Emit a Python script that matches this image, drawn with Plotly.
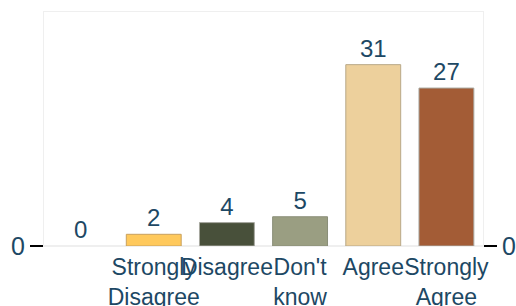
import plotly.graph_objects as go

categories = ["", "Strongly<br>Disagree", "Disagree", "Don't<br>know", "Agree", "Strongly<br>Agree"]
values = [0, 2, 4, 5, 31, 27]
colors = ["rgba(0,0,0,0)", "#FFC95C", "#48503A", "#9A9E82", "#EDD09C", "#A35C36"]
outline_colors = ["rgba(0,0,0,0)", "#C9A15E", "#A8A8A0", "#8A8E78", "#B8A888", "#A8A8A0"]

txt_color = "#1D4864"
font_family = "Arial, Liberation Sans, sans-serif"
x_idx = list(range(len(categories)))

fig = go.Figure()
fig.add_trace(go.Bar(
    x=x_idx, y=values,
    marker=dict(color=colors, line=dict(color=outline_colors, width=1)),
    text=[str(v) for v in values], textposition="outside",
    textfont=dict(size=24, color=txt_color, family=font_family),
    cliponaxis=False, hoverinfo="skip", showlegend=False,
))
fig.add_trace(go.Scatter(
    x=x_idx, y=values, yaxis="y2", mode="markers",
    marker=dict(opacity=0), hoverinfo="skip", showlegend=False,
))

fig.update_layout(
    width=516, height=306,
    margin=dict(l=44, r=33, t=12, b=60),
    paper_bgcolor="white", plot_bgcolor="white",
    bargap=0.25,
    font=dict(family=font_family, color=txt_color),
    xaxis=dict(
        tickmode="array", tickvals=x_idx, ticktext=categories,
        range=[-0.5, len(categories) - 0.5], tickangle=0, automargin=False,
        showgrid=False, zeroline=False, ticks="",
        showline=True, linecolor="#EFEFEF", mirror=True,
        tickfont=dict(size=23, color=txt_color),
    ),
    yaxis=dict(
        range=[0, 40], tickvals=[0], ticks="outside", ticklen=13,
        tickwidth=2, tickcolor="black", showgrid=False, automargin=False,
        zeroline=True, zerolinecolor="#EFEFEF",
        showline=True, linecolor="#EFEFEF", mirror=True,
        tickfont=dict(size=25, color=txt_color),
    ),
    yaxis2=dict(
        range=[0, 40], tickvals=[0], ticks="outside", ticklen=13,
        tickwidth=2, tickcolor="black", showgrid=False, zeroline=False,
        overlaying="y", side="right", showline=False, automargin=False,
        tickfont=dict(size=25, color=txt_color),
    ),
)

fig.write_html(
    "out.html",
    config={"displayModeBar": False},
    post_script="document.body.style.margin='0';document.body.style.overflow='hidden';",
)
